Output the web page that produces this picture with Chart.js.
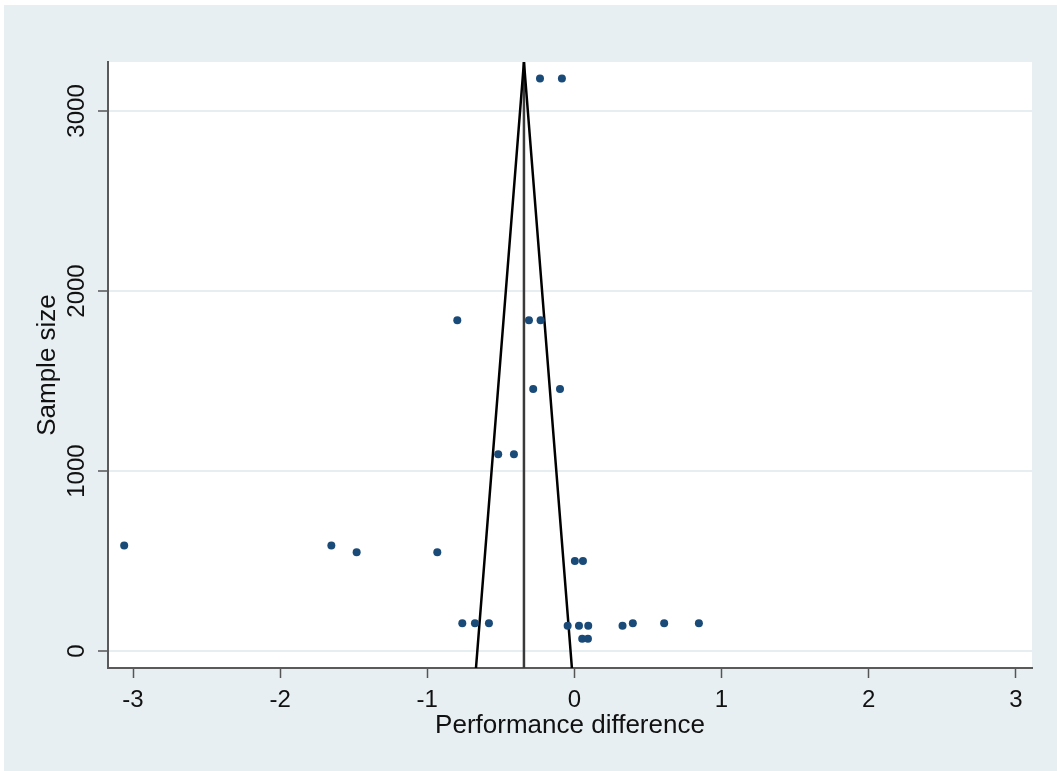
<!DOCTYPE html>
<html>
<head>
<meta charset="utf-8">
<script src="https://cdn.jsdelivr.net/npm/chart.js@4"></script>
<style>
  body { margin: 0; background: #ffffff; }
  #funnelChart { display: block; }
</style>
</head>
<body>
<canvas id="funnelChart" width="1057" height="771"></canvas>
<script>
// study effects (performance difference) and sample sizes
const effects = [-0.234, -0.085, -0.796, -0.309, -0.230, -0.280, -0.098, -0.518, -0.411,
  -3.06, -1.652, -1.48, -0.932, 0.003, 0.058, -0.762, -0.676, -0.581,
  -0.046, 0.031, 0.094, 0.053, 0.092, 0.327, 0.397, 0.61, 0.846];
const sizes = [3181, 3181, 1838, 1838, 1838, 1455, 1455, 1093, 1093,
  586, 586, 549, 549, 501, 501, 154, 154, 154,
  140, 140, 140, 69, 69, 140, 154, 154, 154];

// pooled estimate and funnel limits
const pooled = -0.343;
const funnelX = [-0.669, -0.343, -0.017];
const funnelY = [-94, 3272, -94];

const xTicks = [-3, -2, -1, 0, 1, 2, 3];
const yTicks = [0, 1000, 2000, 3000];

const FONT = "'Liberation Sans', Arial, sans-serif";

const bgPlugin = {
  id: "bg",
  beforeDraw(chart) {
    const { ctx, chartArea } = chart;
    ctx.save();
    ctx.fillStyle = "#ffffff";
    ctx.fillRect(0, 0, chart.width, chart.height);
    ctx.fillStyle = "#e8eff2";
    ctx.fillRect(4, 5, chart.width - 4, chart.height - 5);
    ctx.fillStyle = "#ffffff";
    ctx.fillRect(chartArea.left, chartArea.top, chartArea.right - chartArea.left, chartArea.bottom - chartArea.top);
    ctx.restore();
  },
  afterDraw(chart) {
    // rotated y tick labels
    const { ctx } = chart;
    const y = chart.scales.y;
    ctx.save();
    ctx.fillStyle = "#111111";
    ctx.font = "24px " + FONT;
    ctx.textAlign = "center";
    ctx.textBaseline = "middle";
    yTicks.forEach((v) => {
      ctx.save();
      ctx.translate(77, y.getPixelForValue(v));
      ctx.rotate(-Math.PI / 2);
      ctx.fillText(String(v), 0, 0);
      ctx.restore();
    });
    ctx.restore();
  }
};

const ctx = document.getElementById("funnelChart");
new Chart(ctx, {
  type: "scatter",
  data: {
    datasets: [
      {
        label: "studies",
        data: effects.map((e, i) => ({ x: e, y: sizes[i] })),
        backgroundColor: "#1a4a78",
        borderColor: "#1a4a78",
        pointRadius: 4,
        pointBorderWidth: 0,
        order: 1
      },
      {
        label: "funnel",
        data: funnelX.map((x, i) => ({ x: x, y: funnelY[i] })),
        showLine: true,
        borderColor: "#000000",
        borderWidth: 2.5,
        pointRadius: 0,
        order: 2
      },
      {
        label: "pooled",
        data: [{ x: pooled, y: funnelY[0] }, { x: pooled, y: funnelY[1] }],
        showLine: true,
        borderColor: "#3a3a3a",
        borderWidth: 2.5,
        pointRadius: 0,
        order: 3
      }
    ]
  },
  options: {
    responsive: false,
    animation: false,
    layout: { padding: { top: 62, right: 25, left: 0, bottom: 0 } },
    plugins: {
      legend: { display: false },
      tooltip: { enabled: false }
    },
    scales: {
      x: {
        type: "linear",
        min: -3.17,
        max: 3.11,
        afterBuildTicks: (axis) => { axis.ticks = xTicks.map((v) => ({ value: v })); },
        afterFit: (axis) => { axis.height = 103; },
        grid: { drawOnChartArea: false, tickLength: 10, tickColor: "#555555", tickWidth: 1.5 },
        border: { color: "#5a5a5a", width: 2 },
        ticks: { color: "#111111", font: { family: FONT, size: 24 }, padding: 8, maxRotation: 0 },
        title: { display: true, text: "Performance difference", color: "#111111", font: { family: FONT, size: 26 }, padding: { top: 0, bottom: 30 } }
      },
      y: {
        type: "linear",
        min: -94,
        max: 3272,
        afterBuildTicks: (axis) => { axis.ticks = yTicks.map((v) => ({ value: v })); },
        afterFit: (axis) => { axis.width = 108; },
        grid: { color: "#e6eef1", lineWidth: 2, tickLength: 10, tickColor: "#555555", tickWidth: 1.5 },
        border: { color: "#5a5a5a", width: 2 },
        ticks: { display: false },
        title: { display: true, text: "Sample size", color: "#111111", font: { family: FONT, size: 26 }, padding: { top: 32, bottom: 0 } }
      }
    }
  },
  plugins: [bgPlugin]
});
</script>
</body>
</html>
